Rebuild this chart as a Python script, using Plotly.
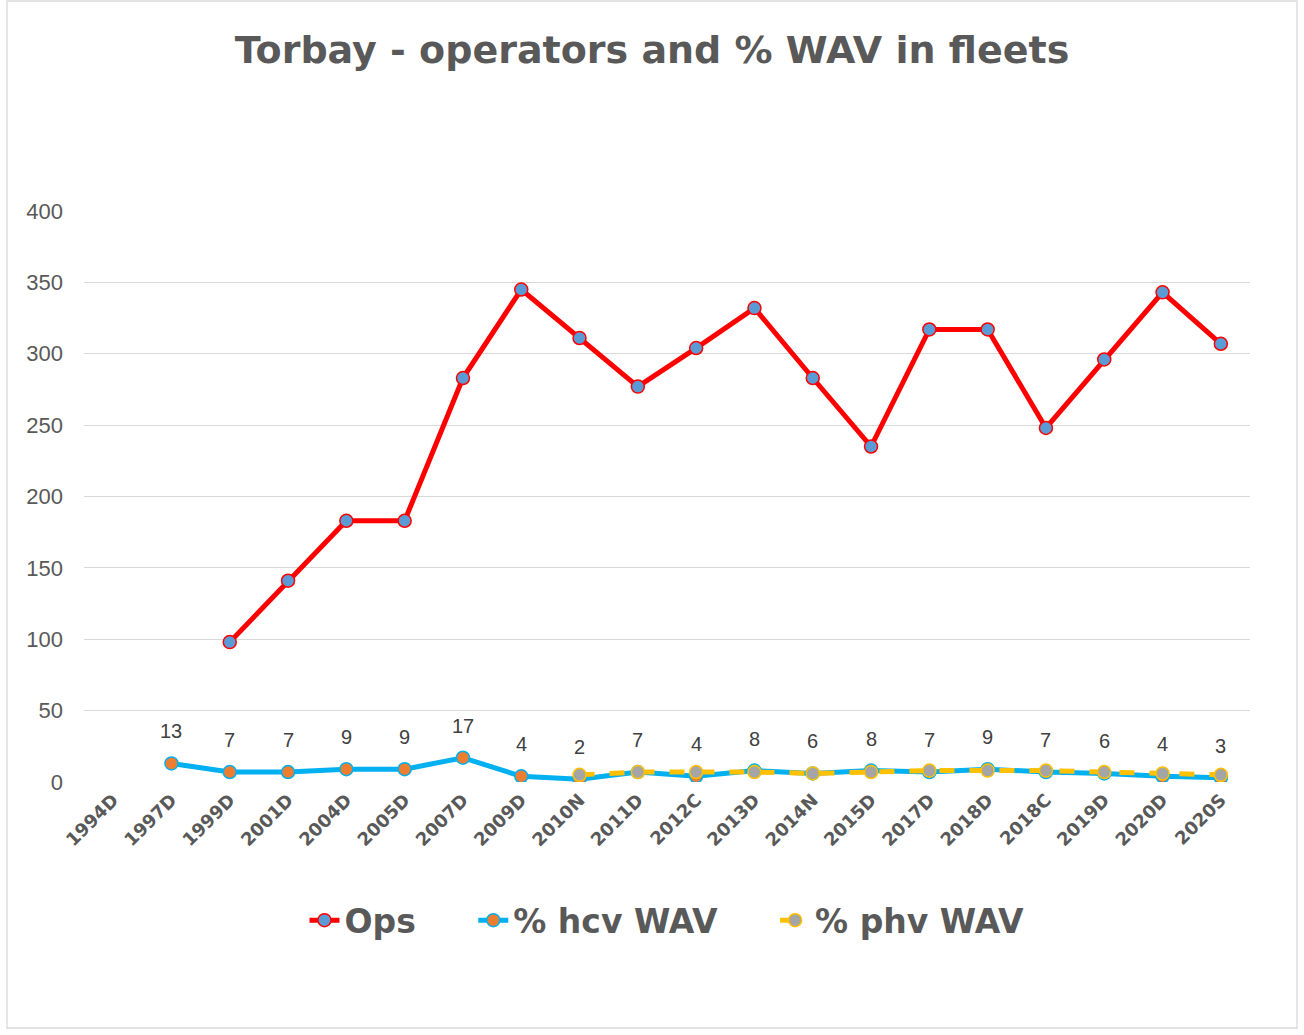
import plotly.graph_objects as go

categories = ["1994D", "1997D", "1999D", "2001D", "2004D", "2005D", "2007D", "2009D",
              "2010N", "2011D", "2012C", "2013D", "2014N", "2015D", "2017D", "2018D",
              "2018C", "2019D", "2020D", "2020S"]
ops = [None, None, 98, 141, 183, 183, 283, 345, 311, 277, 304, 332, 283, 235, 317, 317,
       248, 296, 343, 307]
hcv_wav = [None, 13, 7, 7, 9, 9, 17, 4, 2, 7, 4, 8, 6, 8, 7, 9, 7, 6, 4, 3]
phv_wav = [None, None, None, None, None, None, None, None, 5, 7, 7, 7, 6, 7, 8, 8, 8, 7, 6, 5]
y_ticks = [0, 50, 100, 150, 200, 250, 300, 350, 400]

GREY = "#595959"
PAD = "\u00a0" * 5

fig = go.Figure()
fig.add_trace(go.Scatter(
    x=categories, y=ops, name="<b>Ops</b>" + PAD, mode="lines+markers",
    line=dict(color="#FF0000", width=5),
    marker=dict(size=13, color="#5B9BD5", line=dict(color="#FF0000", width=1.5)),
))
fig.add_trace(go.Scatter(
    x=categories, y=hcv_wav, name="<b>% hcv WAV</b>" + PAD, mode="lines+markers",
    line=dict(color="#00B0F0", width=5),
    marker=dict(size=13, color="#ED7D31", line=dict(color="#00B0F0", width=1.5)),
))
fig.add_trace(go.Scatter(
    x=categories, y=phv_wav, name="<b>% phv WAV</b>", mode="lines+markers",
    line=dict(color="#FFC000", width=5, dash="dash"),
    marker=dict(size=13, color="#A5A5A5", line=dict(color="#FFC000", width=1.5)),
))

for cat, v in zip(categories, hcv_wav):
    if v is None:
        continue
    fig.add_annotation(x=cat, y=v, text=str(v), showarrow=False, yshift=32,
                       xref="x", yref="y",
                       font=dict(family="Liberation Sans, Arial", size=20, color="#404040"))

fig.update_layout(
    width=1304, height=1035,
    paper_bgcolor="white", plot_bgcolor="white",
    margin=dict(l=84, r=54, t=211, b=253),
    title=dict(text="<b>Torbay - operators and % WAV in fleets</b>",
               font=dict(family="DejaVu Sans, Verdana", size=38, color=GREY),
               x=0.5, xanchor="center", y=1 - 50 / 1035, yanchor="middle"),
    showlegend=True,
    legend=dict(orientation="h", x=0.5, xanchor="center", y=-0.242, yanchor="middle",
                font=dict(family="DejaVu Sans, Verdana", size=33, color=GREY),
                tracegroupgap=0),
    xaxis=dict(type="category", categoryorder="array", categoryarray=categories,
               range=[-0.5, len(categories) - 0.5],
               showgrid=False, showline=False, zeroline=False,
               tickangle=-45, ticks="", ticklabelstandoff=3,
               tickfont=dict(family="DejaVu Sans, Verdana", size=18, color=GREY, weight="bold")),
    yaxis=dict(range=[0, 400], tickvals=y_ticks, showgrid=True, gridcolor="#D9D9D9",
               gridwidth=1.3, zeroline=False, showline=False, ticks="",
               ticklabelstandoff=20,
               tickfont=dict(family="Liberation Sans, Arial", size=22, color=GREY)),
    shapes=[dict(type="rect", xref="paper", yref="paper",
                 x0=(7 - 84) / 1166, x1=(1297 - 84) / 1166,
                 y0=(782 - 1028) / 571, y1=(782 - 1) / 571,
                 line=dict(color="#D9D9D9", width=1.3), fillcolor="rgba(0,0,0,0)",
                 layer="below")],
)

fig.write_html("out.html", config={"displayModeBar": False},
               post_script="document.body.style.margin='0';document.body.style.overflow='hidden';")
